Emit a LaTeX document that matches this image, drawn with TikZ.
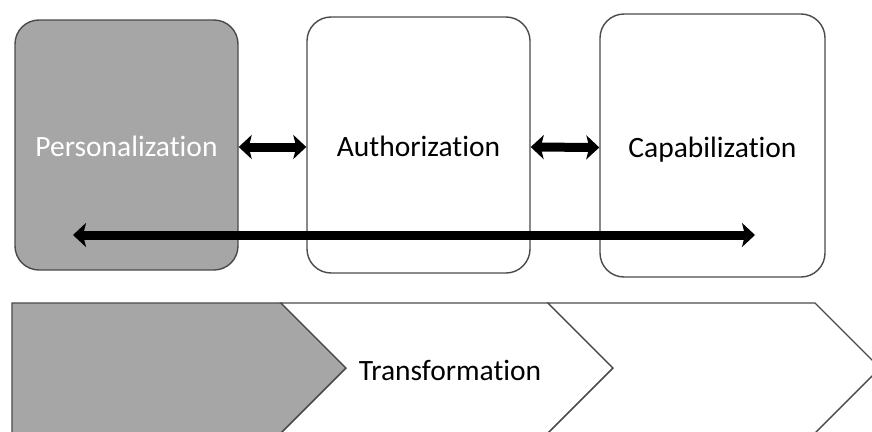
\documentclass[tikz,border=0pt]{standalone}
\usepackage{fontspec}
\setmainfont[Ligatures=NoCommon]{Carlito}
\usetikzlibrary{arrows.meta}
\definecolor{boxgray}{HTML}{A6A6A6}
\definecolor{edgegray}{HTML}{4A4A4A}
\tikzset{
  roundbox/.style={draw=edgegray, line width=1.4pt, rounded corners=24pt, align=center,
    font=\fontsize{29.5}{34}\selectfont, inner sep=0pt, text height=26pt, text depth=3pt},
  chev/.style={draw=edgegray, line width=1.4pt, line join=miter},
  bigarrow/.style={line width=9pt, {Stealth[length=13pt,width=24pt,inset=3pt]}-{Stealth[length=13pt,width=24pt,inset=3pt]}},
  lbl/.style={font=\fontsize{29.5}{34}\selectfont, inner sep=0pt}
}
\begin{document}
\begin{tikzpicture}[x=1pt,y=-1pt]
\useasboundingbox (0,0) rectangle (872,431);
\clip (0,0) rectangle (872,431);
% top boxes
\node[roundbox, fill=boxgray, text=white, minimum width=223pt, minimum height=250pt] (pers) at (126.5,145) {Personalization};
\node[roundbox, fill=white, minimum width=223pt, minimum height=256pt] (auth) at (418.5,145) {Authorization};
\node[roundbox, fill=white, minimum width=225pt, minimum height=263pt] (capa) at (712.5,145.5) {Capabilization};
% connectors
\draw[bigarrow] ([yshift=-2pt]pers.east) -- ([yshift=-2pt]auth.west);
\draw[bigarrow] ([yshift=-2pt]auth.east) -- ([yshift=-2pt]capa.west);
\coordinate (la) at (73,235);
\coordinate (lb) at (755,235);
\draw[bigarrow] (la) -- (lb);
% chevrons
\draw[chev, fill=boxgray] (12,303) -- (281,303) -- (346,368) -- (281,433) -- (12,433) -- cycle;
\draw[chev, fill=white] (281,303) -- (548,303) -- (613,368) -- (548,433) -- (281,433) -- (346,368) -- cycle;
\draw[chev, fill=white] (548,303) -- (815,303) -- (880,368) -- (815,433) -- (548,433) -- (613,368) -- cycle;
\node[lbl] (trans) at (450,370) {Transformation};
\end{tikzpicture}
\end{document}
